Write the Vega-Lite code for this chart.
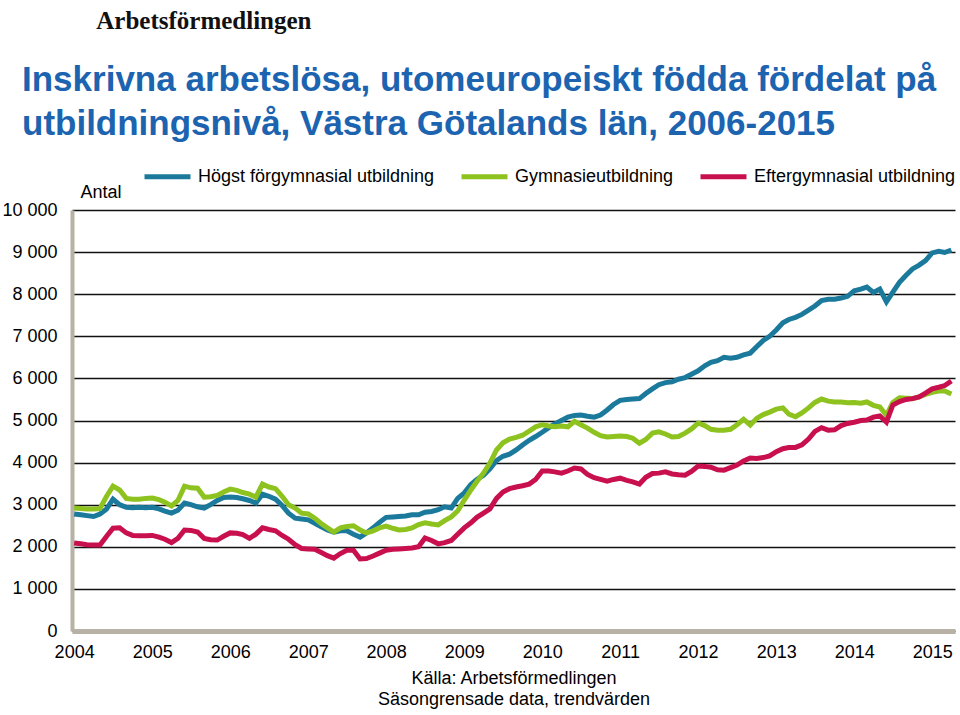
{
  "$schema": "https://vega.github.io/schema/vega-lite/v6.json",
  "width": 883,
  "height": 421,
  "autosize": {"type": "none"},
  "padding": {"left": 72, "top": 210, "right": 5, "bottom": 84},
  "background": "white",
  "config": {
    "font": "Liberation Sans",
    "view": {"stroke": null},
    "locale": {"number": {"decimal": ",", "thousands": " ", "grouping": [3], "currency": ["", " kr"]}}
  },
  "title": {
    "text": "\u2800\u00a0\u00a0\u00a0\u00a0\u00a0\u00a0\u00a0\u00a0\u00a0Arbetsförmedlingen",
    "subtitle": ["Inskrivna arbetslösa, utomeuropeiskt födda fördelat på", "utbildningsnivå, Västra Götalands län, 2006-2015"],
    "anchor": "start",
    "frame": "group",
    "dx": -50,
    "font": "Liberation Serif",
    "fontSize": 25,
    "fontWeight": "bold",
    "color": "#111111",
    "subtitleFont": "Liberation Sans",
    "subtitleFontSize": 35,
    "subtitleFontWeight": "bold",
    "subtitleColor": "#1c63b0",
    "subtitleLineHeight": 44,
    "subtitlePadding": 29,
    "offset": 9
  },
  "datasets": {
    "hogst": [
      {"d":"2004-01","v":2780},{"d":"2004-02","v":2760},{"d":"2004-03","v":2740},{"d":"2004-04","v":2720},{"d":"2004-05","v":2780},{"d":"2004-06","v":2900},{"d":"2004-07","v":3130},{"d":"2004-08","v":3000},{"d":"2004-09","v":2940},{"d":"2004-10","v":2930},{"d":"2004-11","v":2940},{"d":"2004-12","v":2930},
      {"d":"2005-01","v":2940},{"d":"2005-02","v":2900},{"d":"2005-03","v":2850},{"d":"2005-04","v":2800},{"d":"2005-05","v":2870},{"d":"2005-06","v":3040},{"d":"2005-07","v":3000},{"d":"2005-08","v":2950},{"d":"2005-09","v":2920},{"d":"2005-10","v":3000},{"d":"2005-11","v":3100},{"d":"2005-12","v":3170},
      {"d":"2006-01","v":3180},{"d":"2006-02","v":3170},{"d":"2006-03","v":3140},{"d":"2006-04","v":3100},{"d":"2006-05","v":3040},{"d":"2006-06","v":3250},{"d":"2006-07","v":3200},{"d":"2006-08","v":3130},{"d":"2006-09","v":2980},{"d":"2006-10","v":2800},{"d":"2006-11","v":2680},{"d":"2006-12","v":2660},
      {"d":"2007-01","v":2640},{"d":"2007-02","v":2560},{"d":"2007-03","v":2480},{"d":"2007-04","v":2400},{"d":"2007-05","v":2350},{"d":"2007-06","v":2380},{"d":"2007-07","v":2380},{"d":"2007-08","v":2300},{"d":"2007-09","v":2230},{"d":"2007-10","v":2330},{"d":"2007-11","v":2450},{"d":"2007-12","v":2580},
      {"d":"2008-01","v":2700},{"d":"2008-02","v":2710},{"d":"2008-03","v":2720},{"d":"2008-04","v":2730},{"d":"2008-05","v":2760},{"d":"2008-06","v":2760},{"d":"2008-07","v":2820},{"d":"2008-08","v":2840},{"d":"2008-09","v":2880},{"d":"2008-10","v":2950},{"d":"2008-11","v":2920},{"d":"2008-12","v":3150},
      {"d":"2009-01","v":3280},{"d":"2009-02","v":3480},{"d":"2009-03","v":3600},{"d":"2009-04","v":3700},{"d":"2009-05","v":3850},{"d":"2009-06","v":4050},{"d":"2009-07","v":4150},{"d":"2009-08","v":4200},{"d":"2009-09","v":4300},{"d":"2009-10","v":4420},{"d":"2009-11","v":4530},{"d":"2009-12","v":4620},
      {"d":"2010-01","v":4720},{"d":"2010-02","v":4830},{"d":"2010-03","v":4920},{"d":"2010-04","v":5000},{"d":"2010-05","v":5080},{"d":"2010-06","v":5120},{"d":"2010-07","v":5130},{"d":"2010-08","v":5100},{"d":"2010-09","v":5080},{"d":"2010-10","v":5130},{"d":"2010-11","v":5250},{"d":"2010-12","v":5380},
      {"d":"2011-01","v":5480},{"d":"2011-02","v":5500},{"d":"2011-03","v":5510},{"d":"2011-04","v":5520},{"d":"2011-05","v":5640},{"d":"2011-06","v":5750},{"d":"2011-07","v":5850},{"d":"2011-08","v":5900},{"d":"2011-09","v":5920},{"d":"2011-10","v":5980},{"d":"2011-11","v":6020},{"d":"2011-12","v":6100},
      {"d":"2012-01","v":6180},{"d":"2012-02","v":6300},{"d":"2012-03","v":6380},{"d":"2012-04","v":6420},{"d":"2012-05","v":6500},{"d":"2012-06","v":6480},{"d":"2012-07","v":6500},{"d":"2012-08","v":6560},{"d":"2012-09","v":6600},{"d":"2012-10","v":6750},{"d":"2012-11","v":6900},{"d":"2012-12","v":7000},
      {"d":"2013-01","v":7150},{"d":"2013-02","v":7320},{"d":"2013-03","v":7400},{"d":"2013-04","v":7450},{"d":"2013-05","v":7520},{"d":"2013-06","v":7620},{"d":"2013-07","v":7720},{"d":"2013-08","v":7850},{"d":"2013-09","v":7880},{"d":"2013-10","v":7880},{"d":"2013-11","v":7910},{"d":"2013-12","v":7950},
      {"d":"2014-01","v":8080},{"d":"2014-02","v":8120},{"d":"2014-03","v":8170},{"d":"2014-04","v":8040},{"d":"2014-05","v":8120},{"d":"2014-06","v":7820},{"d":"2014-07","v":8050},{"d":"2014-08","v":8280},{"d":"2014-09","v":8450},{"d":"2014-10","v":8600},{"d":"2014-11","v":8690},{"d":"2014-12","v":8800},
      {"d":"2015-01","v":8980},{"d":"2015-02","v":9020},{"d":"2015-03","v":8990},{"d":"2015-04","v":9050}
    ],
    "gymn": [
      {"d":"2004-01","v":2920},{"d":"2004-02","v":2910},{"d":"2004-03","v":2900},{"d":"2004-04","v":2900},{"d":"2004-05","v":2910},{"d":"2004-06","v":3200},{"d":"2004-07","v":3440},{"d":"2004-08","v":3350},{"d":"2004-09","v":3150},{"d":"2004-10","v":3130},{"d":"2004-11","v":3130},{"d":"2004-12","v":3150},
      {"d":"2005-01","v":3160},{"d":"2005-02","v":3120},{"d":"2005-03","v":3060},{"d":"2005-04","v":2970},{"d":"2005-05","v":3100},{"d":"2005-06","v":3440},{"d":"2005-07","v":3400},{"d":"2005-08","v":3390},{"d":"2005-09","v":3180},{"d":"2005-10","v":3190},{"d":"2005-11","v":3220},{"d":"2005-12","v":3300},
      {"d":"2006-01","v":3370},{"d":"2006-02","v":3340},{"d":"2006-03","v":3290},{"d":"2006-04","v":3250},{"d":"2006-05","v":3180},{"d":"2006-06","v":3490},{"d":"2006-07","v":3420},{"d":"2006-08","v":3380},{"d":"2006-09","v":3200},{"d":"2006-10","v":3000},{"d":"2006-11","v":2920},{"d":"2006-12","v":2800},
      {"d":"2007-01","v":2780},{"d":"2007-02","v":2680},{"d":"2007-03","v":2560},{"d":"2007-04","v":2450},{"d":"2007-05","v":2350},{"d":"2007-06","v":2450},{"d":"2007-07","v":2480},{"d":"2007-08","v":2500},{"d":"2007-09","v":2400},{"d":"2007-10","v":2330},{"d":"2007-11","v":2380},{"d":"2007-12","v":2450},
      {"d":"2008-01","v":2490},{"d":"2008-02","v":2440},{"d":"2008-03","v":2400},{"d":"2008-04","v":2410},{"d":"2008-05","v":2450},{"d":"2008-06","v":2530},{"d":"2008-07","v":2570},{"d":"2008-08","v":2540},{"d":"2008-09","v":2520},{"d":"2008-10","v":2620},{"d":"2008-11","v":2710},{"d":"2008-12","v":2850},
      {"d":"2009-01","v":3110},{"d":"2009-02","v":3350},{"d":"2009-03","v":3550},{"d":"2009-04","v":3750},{"d":"2009-05","v":3990},{"d":"2009-06","v":4300},{"d":"2009-07","v":4470},{"d":"2009-08","v":4560},{"d":"2009-09","v":4600},{"d":"2009-10","v":4650},{"d":"2009-11","v":4750},{"d":"2009-12","v":4850},
      {"d":"2010-01","v":4900},{"d":"2010-02","v":4870},{"d":"2010-03","v":4850},{"d":"2010-04","v":4870},{"d":"2010-05","v":4850},{"d":"2010-06","v":4980},{"d":"2010-07","v":4900},{"d":"2010-08","v":4820},{"d":"2010-09","v":4720},{"d":"2010-10","v":4640},{"d":"2010-11","v":4610},{"d":"2010-12","v":4620},
      {"d":"2011-01","v":4630},{"d":"2011-02","v":4620},{"d":"2011-03","v":4580},{"d":"2011-04","v":4460},{"d":"2011-05","v":4550},{"d":"2011-06","v":4700},{"d":"2011-07","v":4730},{"d":"2011-08","v":4680},{"d":"2011-09","v":4610},{"d":"2011-10","v":4620},{"d":"2011-11","v":4700},{"d":"2011-12","v":4800},
      {"d":"2012-01","v":4940},{"d":"2012-02","v":4880},{"d":"2012-03","v":4790},{"d":"2012-04","v":4770},{"d":"2012-05","v":4770},{"d":"2012-06","v":4790},{"d":"2012-07","v":4900},{"d":"2012-08","v":5030},{"d":"2012-09","v":4890},{"d":"2012-10","v":5050},{"d":"2012-11","v":5140},{"d":"2012-12","v":5200},
      {"d":"2013-01","v":5270},{"d":"2013-02","v":5300},{"d":"2013-03","v":5150},{"d":"2013-04","v":5090},{"d":"2013-05","v":5180},{"d":"2013-06","v":5300},{"d":"2013-07","v":5430},{"d":"2013-08","v":5510},{"d":"2013-09","v":5460},{"d":"2013-10","v":5440},{"d":"2013-11","v":5440},{"d":"2013-12","v":5420},
      {"d":"2014-01","v":5430},{"d":"2014-02","v":5410},{"d":"2014-03","v":5440},{"d":"2014-04","v":5360},{"d":"2014-05","v":5320},{"d":"2014-06","v":5120},{"d":"2014-07","v":5430},{"d":"2014-08","v":5540},{"d":"2014-09","v":5530},{"d":"2014-10","v":5520},{"d":"2014-11","v":5560},{"d":"2014-12","v":5620},
      {"d":"2015-01","v":5670},{"d":"2015-02","v":5700},{"d":"2015-03","v":5700},{"d":"2015-04","v":5630}
    ],
    "efter": [
      {"d":"2004-01","v":2090},{"d":"2004-02","v":2070},{"d":"2004-03","v":2050},{"d":"2004-04","v":2040},{"d":"2004-05","v":2040},{"d":"2004-06","v":2250},{"d":"2004-07","v":2440},{"d":"2004-08","v":2450},{"d":"2004-09","v":2330},{"d":"2004-10","v":2270},{"d":"2004-11","v":2260},{"d":"2004-12","v":2260},
      {"d":"2005-01","v":2270},{"d":"2005-02","v":2230},{"d":"2005-03","v":2180},{"d":"2005-04","v":2100},{"d":"2005-05","v":2200},{"d":"2005-06","v":2400},{"d":"2005-07","v":2390},{"d":"2005-08","v":2350},{"d":"2005-09","v":2200},{"d":"2005-10","v":2170},{"d":"2005-11","v":2160},{"d":"2005-12","v":2250},
      {"d":"2006-01","v":2330},{"d":"2006-02","v":2320},{"d":"2006-03","v":2290},{"d":"2006-04","v":2200},{"d":"2006-05","v":2300},{"d":"2006-06","v":2450},{"d":"2006-07","v":2410},{"d":"2006-08","v":2380},{"d":"2006-09","v":2270},{"d":"2006-10","v":2180},{"d":"2006-11","v":2050},{"d":"2006-12","v":1960},
      {"d":"2007-01","v":1950},{"d":"2007-02","v":1940},{"d":"2007-03","v":1870},{"d":"2007-04","v":1790},{"d":"2007-05","v":1730},{"d":"2007-06","v":1840},{"d":"2007-07","v":1920},{"d":"2007-08","v":1920},{"d":"2007-09","v":1710},{"d":"2007-10","v":1720},{"d":"2007-11","v":1780},{"d":"2007-12","v":1850},
      {"d":"2008-01","v":1920},{"d":"2008-02","v":1940},{"d":"2008-03","v":1950},{"d":"2008-04","v":1960},{"d":"2008-05","v":1970},{"d":"2008-06","v":2000},{"d":"2008-07","v":2210},{"d":"2008-08","v":2150},{"d":"2008-09","v":2070},{"d":"2008-10","v":2100},{"d":"2008-11","v":2150},{"d":"2008-12","v":2300},
      {"d":"2009-01","v":2450},{"d":"2009-02","v":2570},{"d":"2009-03","v":2700},{"d":"2009-04","v":2800},{"d":"2009-05","v":2900},{"d":"2009-06","v":3150},{"d":"2009-07","v":3300},{"d":"2009-08","v":3380},{"d":"2009-09","v":3420},{"d":"2009-10","v":3450},{"d":"2009-11","v":3490},{"d":"2009-12","v":3600},
      {"d":"2010-01","v":3800},{"d":"2010-02","v":3800},{"d":"2010-03","v":3780},{"d":"2010-04","v":3750},{"d":"2010-05","v":3800},{"d":"2010-06","v":3870},{"d":"2010-07","v":3850},{"d":"2010-08","v":3720},{"d":"2010-09","v":3640},{"d":"2010-10","v":3600},{"d":"2010-11","v":3560},{"d":"2010-12","v":3600},
      {"d":"2011-01","v":3630},{"d":"2011-02","v":3580},{"d":"2011-03","v":3540},{"d":"2011-04","v":3490},{"d":"2011-05","v":3650},{"d":"2011-06","v":3740},{"d":"2011-07","v":3750},{"d":"2011-08","v":3780},{"d":"2011-09","v":3730},{"d":"2011-10","v":3710},{"d":"2011-11","v":3700},{"d":"2011-12","v":3790},
      {"d":"2012-01","v":3920},{"d":"2012-02","v":3910},{"d":"2012-03","v":3890},{"d":"2012-04","v":3830},{"d":"2012-05","v":3820},{"d":"2012-06","v":3880},{"d":"2012-07","v":3940},{"d":"2012-08","v":4040},{"d":"2012-09","v":4110},{"d":"2012-10","v":4100},{"d":"2012-11","v":4120},{"d":"2012-12","v":4160},
      {"d":"2013-01","v":4260},{"d":"2013-02","v":4330},{"d":"2013-03","v":4360},{"d":"2013-04","v":4360},{"d":"2013-05","v":4420},{"d":"2013-06","v":4560},{"d":"2013-07","v":4740},{"d":"2013-08","v":4830},{"d":"2013-09","v":4770},{"d":"2013-10","v":4780},{"d":"2013-11","v":4880},{"d":"2013-12","v":4930},
      {"d":"2014-01","v":4960},{"d":"2014-02","v":5000},{"d":"2014-03","v":5010},{"d":"2014-04","v":5080},{"d":"2014-05","v":5110},{"d":"2014-06","v":4960},{"d":"2014-07","v":5370},{"d":"2014-08","v":5450},{"d":"2014-09","v":5500},{"d":"2014-10","v":5520},{"d":"2014-11","v":5560},{"d":"2014-12","v":5650},
      {"d":"2015-01","v":5750},{"d":"2015-02","v":5790},{"d":"2015-03","v":5830},{"d":"2015-04","v":5940}
    ]
  },
  "encoding": {
    "x": {
      "field": "d",
      "type": "temporal",
      "scale": {"type": "utc", "domain": [{"year": 2003, "month": 12, "date": 22, "utc": true}, {"year": 2015, "month": 4, "date": 18, "utc": true}]},
      "axis": {
        "values": [
          {"year": 2004, "month": 1, "date": 1, "utc": true},
          {"year": 2005, "month": 1, "date": 1, "utc": true},
          {"year": 2006, "month": 1, "date": 1, "utc": true},
          {"year": 2007, "month": 1, "date": 1, "utc": true},
          {"year": 2008, "month": 1, "date": 1, "utc": true},
          {"year": 2009, "month": 1, "date": 1, "utc": true},
          {"year": 2010, "month": 1, "date": 1, "utc": true},
          {"year": 2011, "month": 1, "date": 1, "utc": true},
          {"year": 2012, "month": 1, "date": 1, "utc": true},
          {"year": 2013, "month": 1, "date": 1, "utc": true},
          {"year": 2014, "month": 1, "date": 1, "utc": true},
          {"year": 2015, "month": 1, "date": 1, "utc": true}
        ],
        "format": "%Y",
        "grid": false,
        "ticks": false,
        "domainColor": "#b8b2a6",
        "domainWidth": 5,
        "labelFontSize": 18,
        "labelColor": "#000000",
        "labelPadding": 12,
        "labelFlush": false,
        "labelOverlap": false,
        "title": ["Källa: Arbetsförmedlingen", "Säsongrensade data, trendvärden"],
        "titleFontSize": 18,
        "titleFontWeight": "normal",
        "titleColor": "#000000",
        "titleLineHeight": 21,
        "titlePadding": 8
      }
    },
    "y": {
      "field": "v",
      "type": "quantitative",
      "scale": {"domain": [0, 10000], "nice": false},
      "axis": {
        "values": [0, 1000, 2000, 3000, 4000, 5000, 6000, 7000, 8000, 9000, 10000],
        "format": ",d",
        "grid": true,
        "gridColor": "#111111",
        "gridWidth": 1.3,
        "ticks": false,
        "domainColor": "#b8b2a6",
        "domainWidth": 4,
        "labelFontSize": 18,
        "labelColor": "#000000",
        "labelPadding": 15,
        "title": "Antal",
        "titleAngle": 0,
        "titleAlign": "left",
        "titleBaseline": "middle",
        "titleX": 8,
        "titleY": -18,
        "titleFontSize": 18,
        "titleFontWeight": "normal",
        "titleColor": "#000000"
      }
    }
  },
  "layer": [
    {
      "data": {"name": "hogst"},
      "mark": {"type": "line", "strokeWidth": 5},
      "encoding": {
        "color": {
          "datum": "Högst förgymnasial utbildning",
          "type": "nominal",
          "scale": {
            "domain": ["Högst förgymnasial utbildning", "Gymnasieutbildning", "Eftergymnasial utbildning"],
            "range": ["#1b7a9c", "#8dc21f", "#c8104f"]
          },
          "legend": {
            "orient": "none",
            "legendX": 70,
            "legendY": -59,
            "direction": "horizontal",
            "title": null,
            "symbolType": "stroke",
            "symbolStrokeWidth": 5,
            "symbolSize": 2116,
            "labelFontSize": 18,
            "labelColor": "#000000",
            "labelOffset": 5,
            "columnPadding": 16,
            "labelLimit": 400
          }
        }
      }
    },
    {
      "data": {"name": "gymn"},
      "mark": {"type": "line", "strokeWidth": 5},
      "encoding": {"color": {"datum": "Gymnasieutbildning", "type": "nominal"}}
    },
    {
      "data": {"name": "efter"},
      "mark": {"type": "line", "strokeWidth": 5},
      "encoding": {"color": {"datum": "Eftergymnasial utbildning", "type": "nominal"}}
    }
  ]
}
